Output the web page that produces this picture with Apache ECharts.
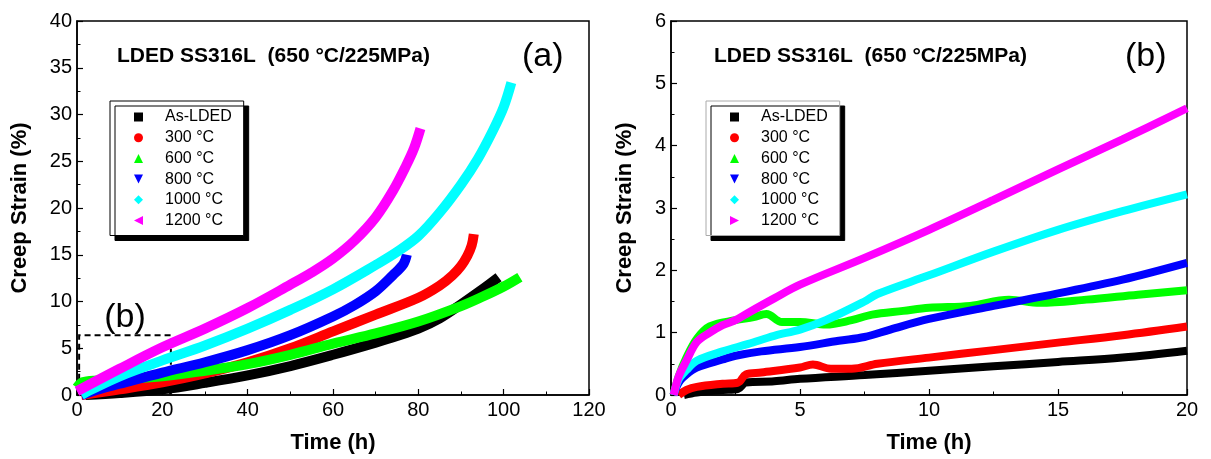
<!DOCTYPE html>
<html>
<head>
<meta charset="utf-8">
<script src="https://cdn.jsdelivr.net/npm/echarts@6/dist/echarts.min.js"></script>
<style>
  html, body { margin: 0; padding: 0; background: #fff; }
  #chart { width: 1211px; height: 459px; }
</style>
</head>
<body>
<div id="chart"></div>
<script>
const seriesNames = ['As-LDED', '300 °C', '600 °C', '800 °C', '1000 °C', '1200 °C']
const seriesColors = ['#000000', '#ff0000', '#00ff00', '#0000ff', '#00ffff', '#ff00ff']

// panel (a): full creep curves [time h, strain %]
const asLdedA = [[2, 0], [10, 0.2], [20, 0.6], [30, 1.3], [40, 2.1], [50, 3.1], [60, 4.3], [70, 5.6], [75, 6.3], [80, 7.1], [85, 8.2], [90, 9.7], [95, 11.3], [98.8, 12.6]]
const c300A = [[1, 0], [10, 0.6], [20, 1.35], [30, 2.3], [40, 3.5], [50, 5], [60, 6.8], [70, 8.6], [80, 10.4], [85, 11.7], [88, 12.8], [90, 13.8], [91.5, 14.9], [92.5, 16], [93, 17.2]]
const c600A = [[0, 0.8], [1, 1.3], [3, 1.5], [10, 1.7], [20, 2.0], [30, 2.6], [40, 3.3], [50, 4.3], [60, 5.5], [70, 6.6], [80, 7.85], [90, 9.5], [95, 10.5], [100, 11.6], [103.8, 12.6]]
const c800A = [[1, 0], [5, 0.6], [10, 1.2], [20, 2.4], [30, 3.5], [40, 4.8], [50, 6.4], [60, 8.4], [65, 9.6], [70, 11.1], [74, 12.8], [76.5, 14], [77.3, 15]]
const c1000A = [[1, 0], [3, 0.5], [10, 2], [20, 3.7], [30, 5.3], [40, 7.1], [50, 9.1], [60, 11.3], [70, 13.9], [75, 15.3], [80, 17], [85, 19.5], [90, 22.5], [94, 25.3], [97.5, 28.3], [100, 30.8], [101.8, 33.4]]
const c1200A = [[0, 0.4], [10, 2.8], [20, 5.1], [30, 7.1], [40, 9.3], [50, 11.8], [55, 13.1], [60, 14.6], [65, 16.5], [70, 19], [74, 21.8], [77, 24.4], [79, 26.4], [80.5, 28.5]]

// panel (b): first 20 h
const asLdedB = [[0.5, 0], [1, 0.04], [2, 0.08], [2.6, 0.1], [2.9, 0.2], [4, 0.22], [5, 0.26], [7.5, 0.32], [10, 0.39], [12.5, 0.46], [15, 0.53], [17.5, 0.6], [20, 0.71]]
const c300B = [[0.3, 0], [0.6, 0.08], [1, 0.13], [2, 0.18], [2.6, 0.2], [2.9, 0.33], [3.5, 0.36], [5, 0.44], [5.5, 0.49], [6.2, 0.42], [7, 0.42], [8, 0.5], [10, 0.6], [12.5, 0.72], [15, 0.84], [17.5, 0.96], [20, 1.1]]
const c600B = [[0.1, 0], [0.3, 0.3], [0.6, 0.6], [1, 0.9], [1.5, 1.1], [2.5, 1.2], [3.2, 1.25], [3.7, 1.3], [4.3, 1.17], [5, 1.17], [6, 1.13], [7, 1.2], [7.8, 1.29], [9, 1.35], [10, 1.4], [11.6, 1.43], [13.1, 1.53], [14.3, 1.48], [16.1, 1.53], [18.1, 1.61], [20, 1.68]]
const c800B = [[0.1, 0], [0.3, 0.2], [0.6, 0.33], [1, 0.44], [2, 0.57], [2.5, 0.63], [3.5, 0.7], [5, 0.77], [6.5, 0.87], [7.5, 0.93], [8.5, 1.05], [10, 1.22], [12.5, 1.43], [15, 1.63], [17.5, 1.85], [20, 2.12]]
const c1000B = [[0.1, 0], [0.3, 0.25], [0.6, 0.4], [1, 0.55], [2, 0.7], [3, 0.82], [4, 0.95], [5, 1.05], [6, 1.2], [7.5, 1.5], [8, 1.62], [10, 1.92], [12.5, 2.3], [15, 2.65], [17.5, 2.95], [20, 3.22]]
const c1200B = [[0.1, 0], [0.3, 0.3], [0.6, 0.55], [1, 0.85], [1.5, 1.0], [2, 1.12], [2.5, 1.2], [3, 1.32], [4, 1.55], [5, 1.77], [7.5, 2.2], [10, 2.65], [12.5, 3.13], [15, 3.62], [17.5, 4.1], [20, 4.6]]

const panelA = [asLdedA, c300A, c600A, c800A, c1000A, c1200A]
const panelB = [asLdedB, c300B, c600B, c800B, c1000B, c1200B]

// dashed box in (a) marking the zoomed region shown in (b)
const zoomBox = [[0.5, 0.2], [22, 6.4]]

const titleText = 'LDED SS316L  (650 °C/225MPa)'
const font = "'Liberation Sans', Arial, sans-serif"

const downTri = 'path://M0,0 L10,0 L5,10 Z'
const leftTri = 'path://M10,0 L10,10 L0,5 Z'
const rightTri = 'path://M0,0 L10,5 L0,10 Z'
const iconsA = ['rect', 'circle', 'triangle', downTri, 'diamond', leftTri]
const iconsB = ['rect', 'circle', 'triangle', downTri, 'diamond', rightTri]

const chart = echarts.init(document.getElementById('chart'), null, { renderer: 'canvas' })

const axisCommon = (min, max, interval) => ({
  type: 'value',
  min, max, interval,
  axisLine: { show: true, lineStyle: { color: '#000', width: 1.5 } },
  axisTick: { show: true, inside: true, length: 6, lineStyle: { color: '#000', width: 1.2 } },
  minorTick: { show: true, splitNumber: 2, length: 3.5, lineStyle: { color: '#000', width: 1 } },
  splitLine: { show: false },
  axisLabel: { color: '#000', fontSize: 20, fontFamily: font, margin: 5 },
  nameLocation: 'middle',
  nameTextStyle: { color: '#000', fontSize: 22, fontWeight: 'bold', fontFamily: font }
})

const makeLegend = (left, top, icons, borderColor) => ({
  orient: 'vertical',
  left, top,
  itemWidth: 9,
  itemHeight: 9,
  itemGap: 2.7,
  padding: [7, 12, 6, 24],
  backgroundColor: '#fff',
  borderColor,
  borderWidth: 1,
  shadowColor: '#000',
  shadowBlur: 0,
  shadowOffsetX: 5,
  shadowOffsetY: 5,
  selectedMode: false,
  textStyle: { color: '#000', fontSize: 16, lineHeight: 18, fontFamily: font, padding: [0, 0, 0, 17] },
  data: seriesNames.map((n, i) => ({ name: n, icon: icons[i] }))
})

const series = []
;[panelA, panelB].forEach((panel, p) => {
  panel.forEach((data, i) => {
    series.push({
      type: 'line',
      name: seriesNames[i],
      xAxisIndex: p,
      yAxisIndex: p,
      data,
      symbol: 'none',
      smooth: 0.35,
      color: seriesColors[i],
      lineStyle: { color: seriesColors[i], width: p === 0 ? 10 : 8, cap: 'butt' },
      z: 2 + i
    })
  })
})

series.push({
  type: 'line',
  name: 'zoom',
  xAxisIndex: 0,
  yAxisIndex: 0,
  data: [],
  z: 20,
  markArea: {
    silent: true,
    itemStyle: { color: 'rgba(0,0,0,0)', borderColor: '#000', borderWidth: 2, borderType: [6, 4] },
    label: { show: true, position: 'top', distance: 0, formatter: '(b)', color: '#000', fontSize: 34, fontFamily: font },
    data: [[{ coord: zoomBox[0] }, { coord: zoomBox[1] }]]
  }
})

chart.setOption({
  animation: false,
  backgroundColor: '#fff',
  textStyle: { fontFamily: font },
  title: [
    { text: titleText, left: 117, top: 46, padding: 0, textStyle: { fontSize: 21, fontWeight: 'bold', color: '#000', fontFamily: font } },
    { text: '(a)', left: 522, top: 40, padding: 0, textStyle: { fontSize: 34, fontWeight: 'normal', color: '#000', fontFamily: font } },
    { text: titleText, left: 714, top: 46, padding: 0, textStyle: { fontSize: 21, fontWeight: 'bold', color: '#000', fontFamily: font } },
    { text: '(b)', left: 1125, top: 40, padding: 0, textStyle: { fontSize: 34, fontWeight: 'normal', color: '#000', fontFamily: font } }
  ],
  legend: [
    makeLegend(110, 101, iconsA, '#000'),
    makeLegend(706, 101, iconsB, '#aaa')
  ],
  grid: [
    { left: 77, top: 21, width: 512, height: 375, show: true, borderColor: '#000', borderWidth: 1.5, backgroundColor: 'transparent' },
    { left: 671, top: 21, width: 516, height: 376, show: true, borderColor: '#000', borderWidth: 1.5, backgroundColor: 'transparent' }
  ],
  xAxis: [
    Object.assign(axisCommon(0, 120, 20), { gridIndex: 0, name: 'Time (h)', nameGap: 37 }),
    Object.assign(axisCommon(0, 20, 5), { gridIndex: 1, name: 'Time (h)', nameGap: 37 })
  ],
  yAxis: [
    Object.assign(axisCommon(0, 40, 5), { gridIndex: 0, name: 'Creep Strain (%)', nameGap: 46 }),
    Object.assign(axisCommon(0, 6, 1), { gridIndex: 1, name: 'Creep Strain (%)', nameGap: 35 })
  ],
  series
})
</script>
</body>
</html>
